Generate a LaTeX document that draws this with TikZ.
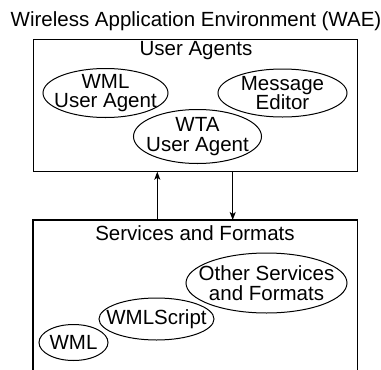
\documentclass[tikz,border=0pt]{standalone}
\usepackage{fontspec}
\setmainfont{Liberation Sans}
\usetikzlibrary{shapes.geometric,arrows.meta}
\tikzset{
  lbl/.style={anchor=base,inner sep=0pt,font=\fontsize{20.5}{19.5}\selectfont},
  txt/.style={inner sep=0pt,align=center,font=\fontsize{20.5}{19.5}\selectfont},
  oval/.style={ellipse,draw,line width=1pt,inner sep=0pt},
  frame/.style={line width=1.2pt},
  arr/.style={line width=1.1pt,-{Stealth[length=8pt,width=6pt,inset=2pt]}}
}
\begin{document}
\begin{tikzpicture}[x=1pt,y=-1pt]
\useasboundingbox (0,0) rectangle (381,370);
% title
\node[lbl] (title) at (196,26.7) {Wireless Application Environment (WAE)};
% user agents layer
\node[draw,frame,rectangle,minimum width=324pt,minimum height=132pt,anchor=north west,inner sep=0pt] (ua) at (33,38.5) {};
\node[lbl] (ualbl) at (196,55.5) {User Agents};
\node[oval,minimum width=125pt,minimum height=49pt,
  label={[txt]center:WML\\User Agent}] (wmlua) at (105.5,93) {};
\node[oval,minimum width=129pt,minimum height=48pt,
  label={[txt]center:Message\\Editor}] (msged) at (282.5,93) {};
\node[oval,minimum width=128pt,minimum height=54pt,
  label={[txt]center:WTA\\User Agent}] (wtaua) at (197.5,136.5) {};
% services and formats layer (open at the bottom)
\node[rectangle,minimum width=324pt,minimum height=160pt,anchor=north west,inner sep=0pt] (sf) at (33,220) {};
\draw[frame] (sf.south west) -- (sf.north west) -- (sf.north east) -- (sf.south east);
\node[lbl] (sflbl) at (195,240) {Services and Formats};
\node[oval,minimum width=161pt,minimum height=60pt,
  label={[txt]center:Other Services\\and Formats}] (other) at (266.5,283) {};
\node[oval,minimum width=115pt,minimum height=42pt,
  label={[txt]center:WMLScript}] (wmls) at (156.5,319) {};
\node[oval,minimum width=69pt,minimum height=36pt,
  label={[txt]center:WML}] (wml) at (73.5,342.5) {};
% connectors between the layers
\coordinate (upx) at (157.3,0);
\coordinate (dnx) at (232.7,0);
\draw[arr] (upx |- sf.north) -- (upx |- ua.south);
\draw[arr] (dnx |- ua.south) -- (dnx |- sf.north);
\end{tikzpicture}
\end{document}
